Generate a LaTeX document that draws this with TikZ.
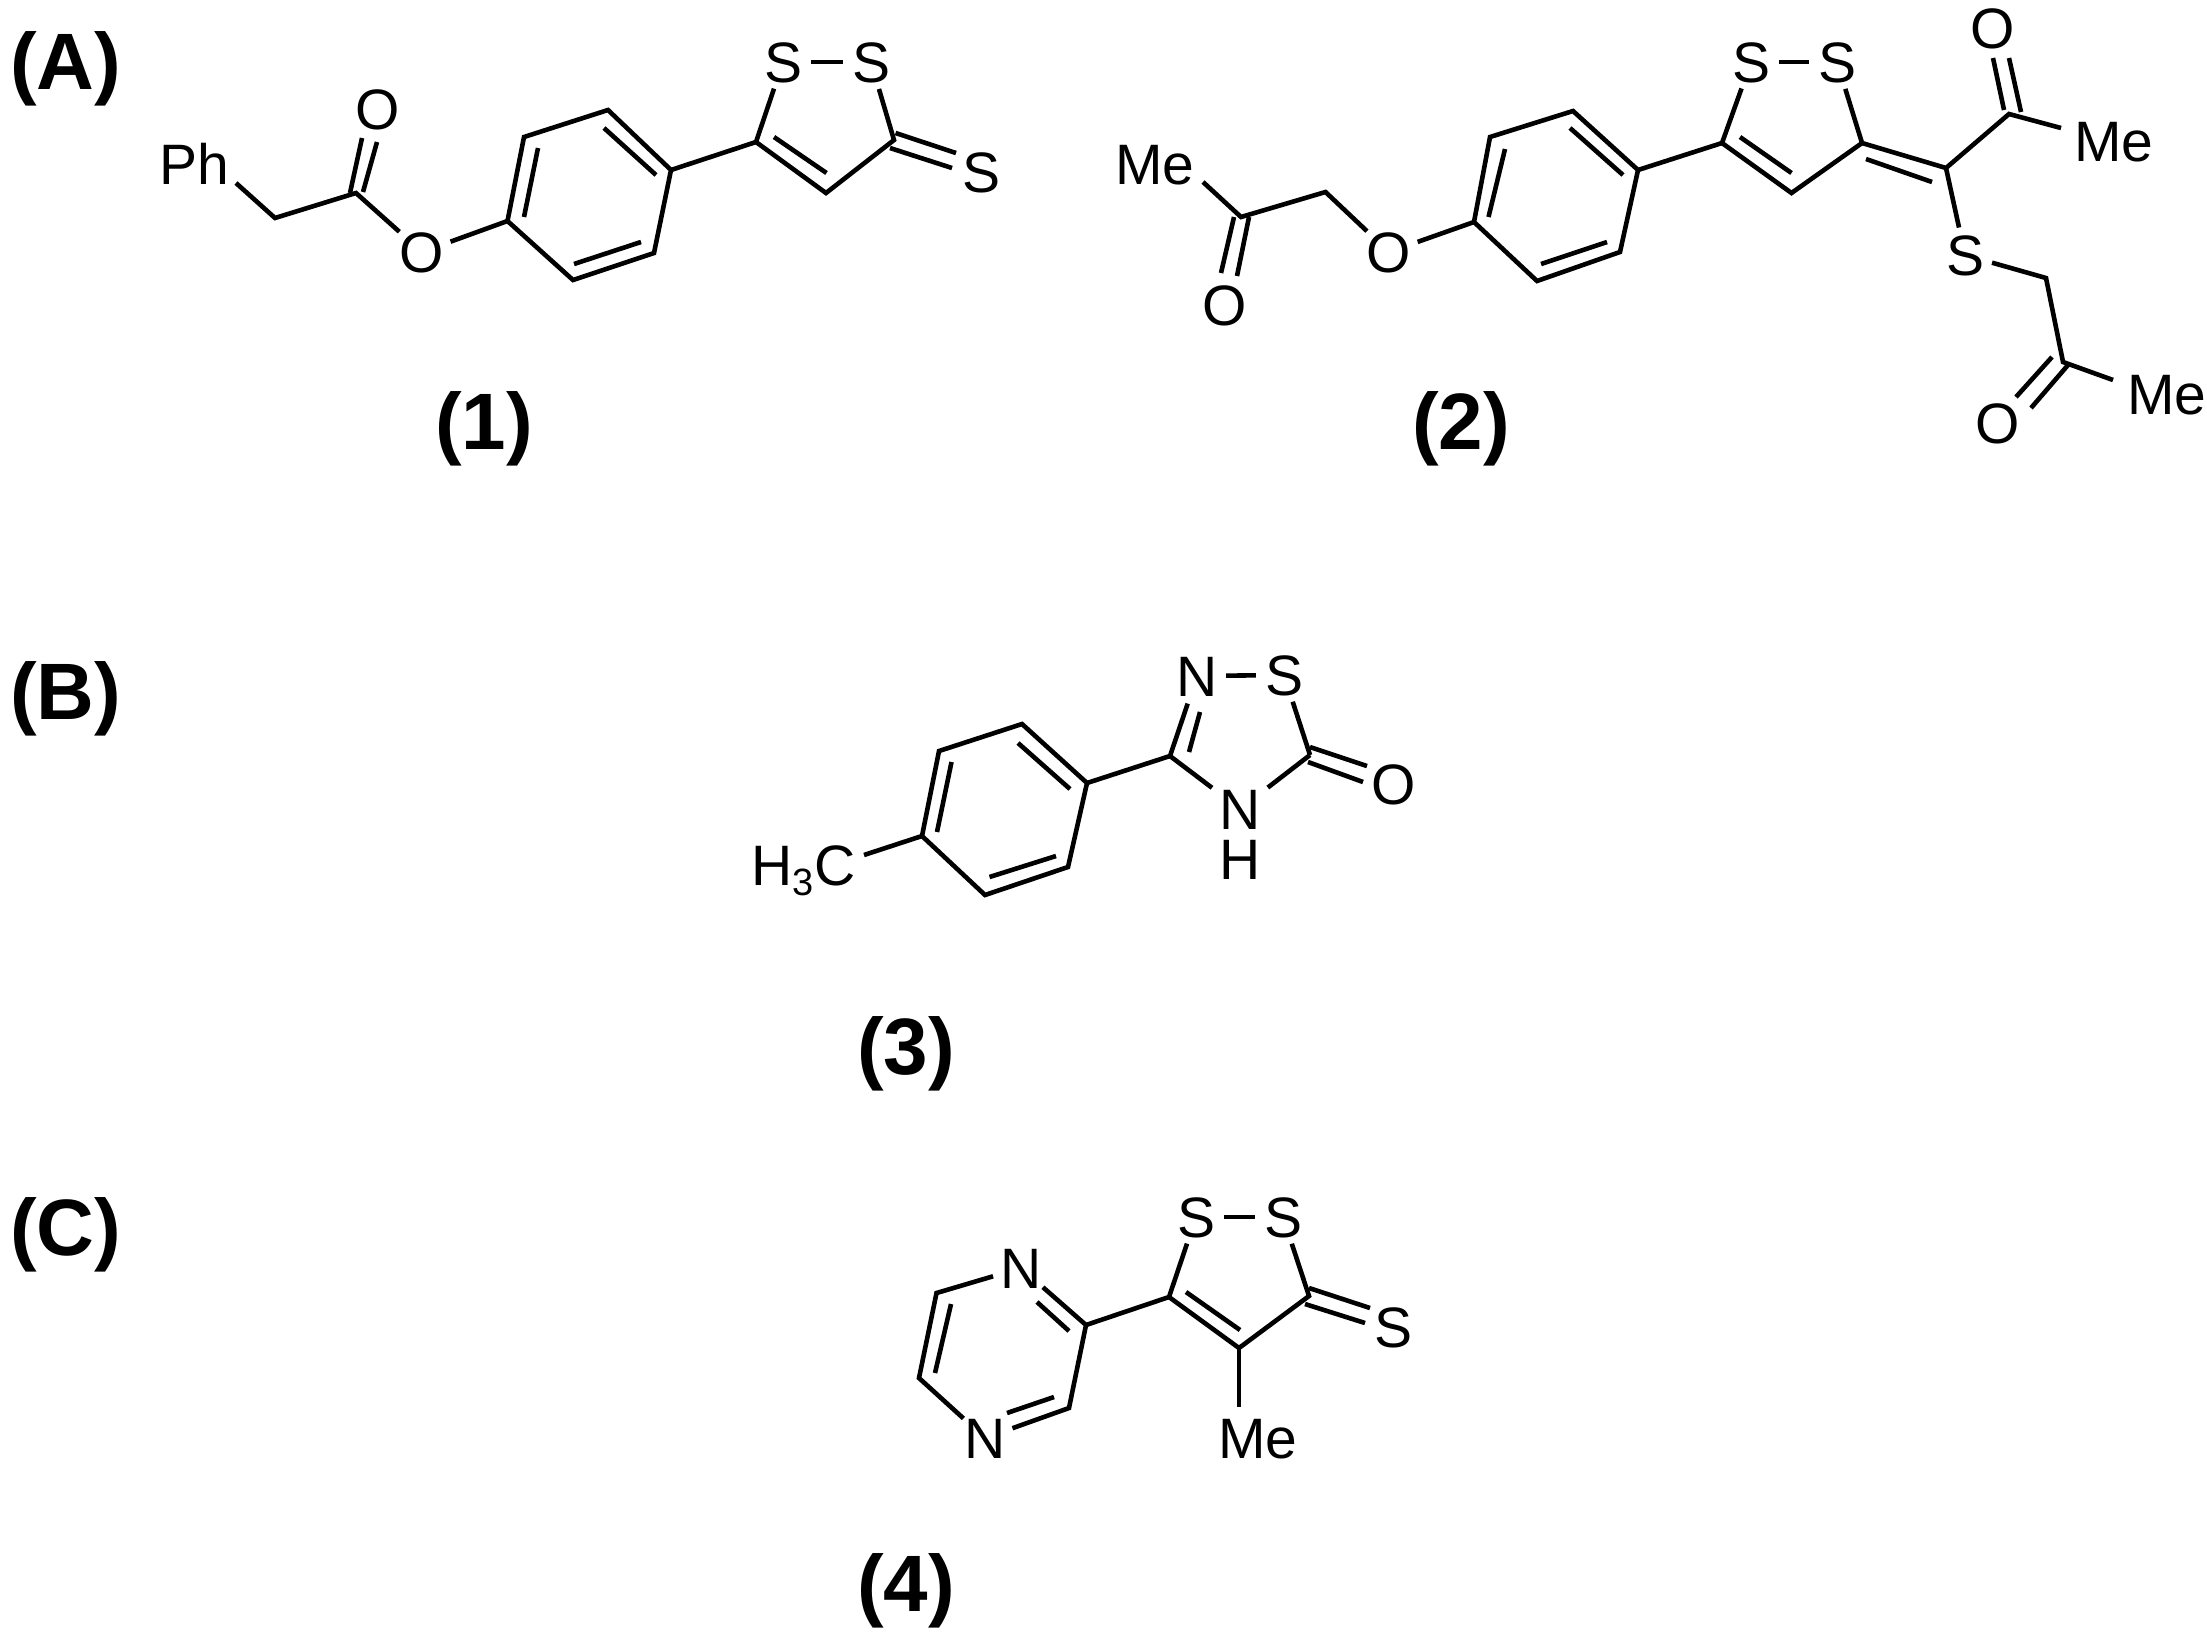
\documentclass[tikz,border=0pt]{standalone}
\usepackage{fontspec}
\setmainfont{Liberation Sans}
\newcommand\atomfont{\fontsize{57}{57}\selectfont}
\newcommand\labfont{\fontsize{80}{80}\selectfont\bfseries}
\newcommand\bnd[3]{\coordinate (#1a) at (#2); \coordinate (#1b) at (#3); \draw[bond] (#1a) -- (#1b);}
\tikzset{
  bond/.style={line width=4.6pt,line cap=butt,line join=miter},
  atom/.style={circle,inner sep=0pt,text height=41pt,text depth=0pt,font=\atomfont},
  grp/.style={rectangle,inner sep=0pt,text height=41pt,text depth=0pt,font=\atomfont},
  lab/.style={inner sep=0pt,text height=58pt,text depth=0pt,font=\labfont}
}
\begin{document}
\begin{tikzpicture}[x=1pt,y=-1pt]
\useasboundingbox (0,0) rectangle (2207,1634);
% panel letters
\node[lab,anchor=west] (la) at (10,60) {(A)};
\node[lab,anchor=west] (lb) at (10,690) {(B)};
\node[lab,anchor=west] (lc) at (10,1226) {(C)};
\node[lab] (l1) at (484,420) {(1)};
\node[lab] (l2) at (1461,420) {(2)};
\node[lab] (l3) at (906,1045) {(3)};
\node[lab] (l4) at (906,1582) {(4)};

% ---- molecule 1
\node[grp,anchor=west] (aPh) at (159,164) {Ph};
\coordinate (aPhe) at (236,183);
\coordinate (aCH) at (275,218);
\coordinate (aCO) at (356,193);
\node[atom] (aO1) at (378,109) {O};
\node[atom] (aO2) at (422,252) {O};
\coordinate (ar1) at (507.5,221);
\coordinate (ar2) at (524,137);
\coordinate (ar3) at (608,110);
\coordinate (ar4) at (671,170);
\coordinate (ar5) at (654,253);
\coordinate (ar6) at (573,280);
\coordinate (aC5) at (756,142);
\coordinate (aC4) at (826,193);
\coordinate (aC3) at (894,140);
\node[atom] (aS1) at (783,62) {S};
\node[atom] (aS2) at (871,62) {S};
\node[atom] (aS3) at (981,172) {S};
\draw[bond] (aPhe) -- (aCH) -- (aCO) -- (aO2) -- (ar1);
\draw[bond] (ar1) -- (ar2) -- (ar3) -- (ar4) -- (ar5) -- (ar6) -- cycle;
\draw[bond] (ar4) -- (aC5);
\draw[bond] (aS1) -- (aC5) -- (aC4) -- (aC3) -- (aS2);
\draw[bond] (aS1) -- (aS2);
\bnd{ad1}{538,148}{524,217}
\bnd{ad2}{604,128}{656,175}
\bnd{ad3}{641,242}{574,264}
\bnd{ad4}{774,137}{826.5,173}
\bnd{ad5}{895.5,133}{956,153}
\bnd{ad6}{890,148}{952,168}
\bnd{ad7}{362,138}{350,193}
\bnd{ad8}{377,142}{363,192}

% ---- molecule 2
\node[grp,anchor=west] (bMe1) at (1115,164) {Me};
\coordinate (bMe1e) at (1203,182);
\coordinate (bC1) at (1241,217);
\node[atom] (bO1) at (1225,305) {O};
\coordinate (bCH) at (1325.5,192);
\node[atom] (bO2) at (1389,252) {O};
\coordinate (br1) at (1474,222);
\coordinate (br2) at (1490,137);
\coordinate (br3) at (1573,111);
\coordinate (br4) at (1638,170);
\coordinate (br5) at (1620,252);
\coordinate (br6) at (1537,281);
\coordinate (bC5) at (1722,143);
\coordinate (bC4) at (1791.5,193);
\coordinate (bC3) at (1862,143);
\coordinate (bCx) at (1946,168);
\coordinate (bCO) at (2009,114);
\node[atom] (bS1) at (1751,62) {S};
\node[atom] (bS2) at (1837,62) {S};
\node[atom] (bS3) at (1965,255) {S};
\node[atom] (bO3) at (1993,28) {O};
\node[grp,anchor=west] (bMe2) at (2074,141) {Me};
\coordinate (bMe2e) at (2061,128);
\coordinate (bCH2) at (2046,278);
\coordinate (bC2) at (2063,362);
\node[grp,anchor=west] (bMe3) at (2127,394) {Me};
\coordinate (bMe3e) at (2113,380);
\node[atom] (bO4) at (1998,423) {O};
\draw[bond] (bMe1e) -- (bC1) -- (bCH) -- (bO2) -- (br1);
\draw[bond] (br1) -- (br2) -- (br3) -- (br4) -- (br5) -- (br6) -- cycle;
\draw[bond] (br4) -- (bC5);
\draw[bond] (bS1) -- (bC5) -- (bC4) -- (bC3) -- (bS2);
\draw[bond] (bS1) -- (bS2);
\draw[bond] (bC3) -- (bCx) -- (bCO) -- (bMe2e);
\draw[bond] (bCx) -- (bS3) -- (bCH2) -- (bC2) -- (bMe3e);
\bnd{bd1}{1234,217}{1221,273}
\bnd{bd2}{1249,217}{1237,276}
\bnd{bd3}{1505,149}{1488.5,217}
\bnd{bd4}{1570,128}{1623,175}
\bnd{bd5}{1607,242}{1541,264}
\bnd{bd6}{1740,137}{1791.5,173}
\bnd{bd7}{1866,159}{1932,182}
\bnd{bd8}{1993,58}{2004,110}
\bnd{bd9}{2009,58}{2021,112}
\bnd{bd10}{2052,357}{2016,397}
\bnd{bd11}{2068,365}{2031,408}

% ---- molecule 3
\node[grp,anchor=west] (cMe) at (751.5,865) {H\raisebox{-10pt}{\fontsize{38}{38}\selectfont 3}C};
\coordinate (cMee) at (864,855);
\coordinate (cr1) at (922,836);
\coordinate (cr2) at (939,751);
\coordinate (cr3) at (1022,724);
\coordinate (cr4) at (1087,783);
\coordinate (cr5) at (1068,867);
\coordinate (cr6) at (985,895);
\coordinate (cC3) at (1170,756);
\coordinate (cC5) at (1310,755);
\node[atom] (cN1) at (1197,676) {N};
\node[atom] (cS) at (1284,675) {S};
\node[atom] (cN2) at (1240,809) {N};
\node[grp] (cH) at (1240,859) {H};
\node[atom] (cO) at (1394,784) {O};
\draw[bond] (cMee) -- (cr1);
\draw[bond] (cr1) -- (cr2) -- (cr3) -- (cr4) -- (cr5) -- (cr6) -- cycle;
\draw[bond] (cr4) -- (cC3);
\draw[bond,shorten >=6pt] (cC3) -- (cN2);
\draw[bond,shorten >=6pt] (cC5) -- (cN2);
\draw[bond] (cC3) -- (cN1);
\draw[bond] (cN1) -- (cS);
\draw[bond] (cS) -- (cC5);
\bnd{cd1}{951.5,762}{937,832}
\bnd{cd2}{1018,743}{1070,789}
\bnd{cd3}{1056,856}{989.5,877}
\bnd{cd4}{1189,752}{1200,712}
\bnd{cd5}{1310,747}{1367,766}
\bnd{cd6}{1308,762}{1363,782}

% ---- molecule 4
\node[atom] (dN1) at (1021,1268) {N};
\node[atom] (dN2) at (985,1438) {N};
\coordinate (dp1) at (1086,1325);
\coordinate (dp2) at (1069,1408);
\coordinate (dp3) at (919,1378);
\coordinate (dp4) at (936.5,1293);
\coordinate (dC5) at (1169,1297);
\coordinate (dC4) at (1239,1348);
\coordinate (dC3) at (1309,1296);
\node[atom] (dS1) at (1196,1217) {S};
\node[atom] (dS2) at (1283,1217) {S};
\node[atom] (dS3) at (1393,1327) {S};
\node[grp,anchor=west] (dMe) at (1218,1438) {Me};
\coordinate (dMee) at (1239,1407);
\draw[bond] (dN1) -- (dp4) -- (dp3) -- (dN2);
\draw[bond] (dN1) -- (dp1) -- (dp2) -- (dN2);
\draw[bond] (dp1) -- (dC5);
\draw[bond] (dS1) -- (dC5) -- (dC4) -- (dC3) -- (dS2);
\draw[bond] (dS1) -- (dS2);
\draw[bond] (dC4) -- (dMee);
\bnd{dd1}{951,1304}{935,1373}
\bnd{dd2}{1054,1397}{1007,1413}
\bnd{dd3}{1037,1302}{1069,1331}
\bnd{dd4}{1186,1292}{1240,1330}
\bnd{dd5}{1309,1288}{1370,1308}
\bnd{dd6}{1305,1304}{1365,1323}
\end{tikzpicture}
\end{document}
